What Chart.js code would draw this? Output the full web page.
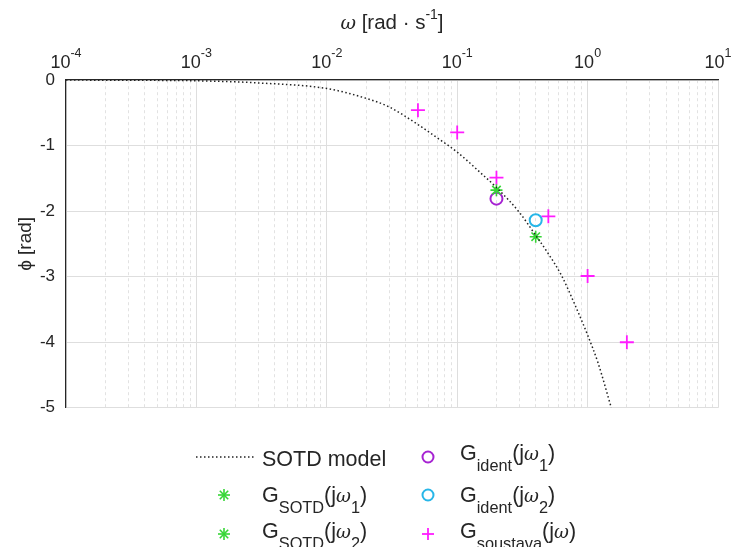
<!DOCTYPE html>
<html lang="cs">
<head>
<meta charset="UTF-8" />
<title>Fázová charakteristika</title>
<script src="https://cdn.jsdelivr.net/npm/chart.js"></script>
<style>
  body { margin: 0; width: 734px; height: 547px; overflow: hidden; background: #fff;
         font-family: "Liberation Sans", Arial, sans-serif; color: #262626; }
  .chart-box { position: absolute; left: 0; top: 0; width: 734px; height: 429px; }
  .legend { position: absolute; left: 0; top: 0; width: 734px; height: 547px; pointer-events: none; }
  .item { position: absolute; font-size: 21.5px; line-height: 24px; white-space: nowrap; }
  .mark { position: absolute; }
  .sub { font-size: 0.76em; position: relative; top: 11px; }
  .w { font-style: italic; font-family: "DejaVu Serif", serif; font-size: 0.85em; }
</style>
</head>
<body>
<div class="chart-box"><canvas id="chartFaze"></canvas></div>

<div class="legend">
  <svg class="mark" style="left:192px;top:447px" width="66" height="20">
    <line x1="4" y1="10" x2="62" y2="10" stroke="#222" stroke-width="1.5" stroke-dasharray="1.5 2.5"/>
  </svg>
  <div class="item" style="left:262px;top:447px">SOTD model</div>

  <svg class="mark" style="left:214px;top:485px" width="20" height="20">
    <g stroke="#36d636" stroke-width="1.6">
      <line x1="10" y1="4" x2="10" y2="16"/><line x1="4" y1="10" x2="16" y2="10"/>
      <line x1="5.8" y1="5.8" x2="14.2" y2="14.2"/><line x1="14.2" y1="5.8" x2="5.8" y2="14.2"/>
    </g>
  </svg>
  <div class="item" style="left:262px;top:483px">G<span class="sub">SOTD</span>(j<span class="w">ω</span><span class="sub">1</span>)</div>

  <svg class="mark" style="left:214px;top:524px" width="20" height="20">
    <g stroke="#36d636" stroke-width="1.6">
      <line x1="10" y1="4" x2="10" y2="16"/><line x1="4" y1="10" x2="16" y2="10"/>
      <line x1="5.8" y1="5.8" x2="14.2" y2="14.2"/><line x1="14.2" y1="5.8" x2="5.8" y2="14.2"/>
    </g>
  </svg>
  <div class="item" style="left:262px;top:519px">G<span class="sub">SOTD</span>(j<span class="w">ω</span><span class="sub">2</span>)</div>

  <svg class="mark" style="left:418px;top:447px" width="20" height="20">
    <circle cx="10" cy="10" r="5.5" fill="none" stroke="#a623d2" stroke-width="2"/>
  </svg>
  <div class="item" style="left:460px;top:441px">G<span class="sub">ident</span>(j<span class="w">ω</span><span class="sub">1</span>)</div>

  <svg class="mark" style="left:418px;top:485px" width="20" height="20">
    <circle cx="10" cy="10" r="5.5" fill="none" stroke="#27b6e8" stroke-width="2"/>
  </svg>
  <div class="item" style="left:460px;top:483px">G<span class="sub">ident</span>(j<span class="w">ω</span><span class="sub">2</span>)</div>

  <svg class="mark" style="left:418px;top:524px" width="20" height="20">
    <g stroke="#ff1cff" stroke-width="1.8">
      <line x1="10" y1="4" x2="10" y2="16"/><line x1="4" y1="10" x2="16" y2="10"/>
    </g>
  </svg>
  <div class="item" style="left:460px;top:519px">G<span class="sub">soustava</span>(j<span class="w">ω</span>)</div>
</div>

<script>
// SOTD model, fáze odečtená v bodech frekvence
const modelOmega = [0.0001, 0.0003, 0.001, 0.003, 0.01, 0.02, 0.03, 0.05, 0.07, 0.1, 0.15, 0.2, 0.3, 0.4, 0.5, 0.63, 0.8, 1.0, 1.2, 1.52];
const modelPhase = [-0.001, -0.004, -0.012, -0.045, -0.13, -0.28, -0.41, -0.68, -0.88, -1.10, -1.41, -1.64, -2.02, -2.37, -2.65, -2.98, -3.43, -3.89, -4.31, -5.0];

// G_SOTD v bodech w1, w2
const sotdOmega = [0.2, 0.4];
const sotdPhase = [-1.68, -2.39];

// identifikované body
const identOmega = [0.2, 0.4];
const identPhase = [-1.81, -2.14];

// měření soustavy
const soustavaOmega = [0.05, 0.1, 0.2, 0.5, 1, 2];
const soustavaPhase = [-0.46, -0.80, -1.49, -2.08, -2.99, -4.00];

// osa x: dekády a popisky exponentů
const xDecades = [0.0001, 0.001, 0.01, 0.1, 1, 10];
const xExponents = ['-4', '-3', '-2', '-1', '0', '1'];
const yTicks = [0, -1, -2, -3, -4, -5];

const pts = (xs, ys) => xs.map((x, i) => ({x: x, y: ys[i]}));

// mřížka 1..9 v každé dekádě
function logGridTicks() {
  const ticks = [];
  for (let d = 0; d < xDecades.length; d++) {
    ticks.push({value: xDecades[d], major: true});
    if (d === xDecades.length - 1) break;
    for (let k = 2; k <= 9; k++) ticks.push({value: k * xDecades[d], major: false});
  }
  return ticks;
}

// popisky 10^n a název osy x nahoře
const topAxisLabels = {
  id: 'topAxisLabels',
  afterDraw(chart) {
    const ctx = chart.ctx;
    const xs = chart.scales.x;
    ctx.save();
    ctx.fillStyle = '#262626';
    ctx.textBaseline = 'alphabetic';
    ctx.textAlign = 'left';
    xDecades.forEach((v, i) => {
      const px = xs.getPixelForValue(v);
      ctx.font = '18px "Liberation Sans", Arial, sans-serif';
      const wb = ctx.measureText('10').width;
      ctx.font = '12.5px "Liberation Sans", Arial, sans-serif';
      const we = ctx.measureText(xExponents[i]).width;
      const x0 = px - (wb + we) / 2;
      ctx.font = '18px "Liberation Sans", Arial, sans-serif';
      ctx.fillText('10', x0, 68);
      ctx.font = '12.5px "Liberation Sans", Arial, sans-serif';
      ctx.fillText(xExponents[i], x0 + wb, 57);
    });

    // ω [rad · s^-1]
    const parts = [
      {t: 'ω', f: 'italic 19px "DejaVu Serif", serif', dy: 0},
      {t: ' [rad · s', f: '20.5px "Liberation Sans", Arial, sans-serif', dy: 0},
      {t: '-1', f: '14px "Liberation Sans", Arial, sans-serif', dy: -10},
      {t: ']', f: '20.5px "Liberation Sans", Arial, sans-serif', dy: 0}
    ];
    let total = 0;
    parts.forEach(p => { ctx.font = p.f; p.w = ctx.measureText(p.t).width; total += p.w; });
    let x = (chart.chartArea.left + chart.chartArea.right) / 2 - total / 2;
    parts.forEach(p => { ctx.font = p.f; ctx.fillText(p.t, x, 29 + p.dy); x += p.w; });
    ctx.restore();
  }
};

new Chart(document.getElementById('chartFaze'), {
  type: 'scatter',
  data: {
    datasets: [
      {
        type: 'line',
        label: 'SOTD model',
        data: pts(modelOmega, modelPhase),
        borderColor: '#222',
        borderWidth: 1.5,
        borderDash: [1.5, 2.5],
        pointRadius: 0,
        cubicInterpolationMode: 'monotone',
        fill: false
      },
      {
        label: 'G_SOTD(jw1)',
        data: pts(sotdOmega.slice(0, 1), sotdPhase.slice(0, 1)),
        pointStyle: 'star', pointRadius: 6, borderWidth: 1.6,
        borderColor: '#36d636', backgroundColor: '#36d636'
      },
      {
        label: 'G_SOTD(jw2)',
        data: pts(sotdOmega.slice(1), sotdPhase.slice(1)),
        pointStyle: 'star', pointRadius: 6, borderWidth: 1.6,
        borderColor: '#36d636', backgroundColor: '#36d636'
      },
      {
        label: 'G_ident(jw1)',
        data: pts(identOmega.slice(0, 1), identPhase.slice(0, 1)),
        pointStyle: 'circle', pointRadius: 6, borderWidth: 2,
        borderColor: '#a623d2', backgroundColor: 'rgba(0,0,0,0)'
      },
      {
        label: 'G_ident(jw2)',
        data: pts(identOmega.slice(1), identPhase.slice(1)),
        pointStyle: 'circle', pointRadius: 6, borderWidth: 2,
        borderColor: '#27b6e8', backgroundColor: 'rgba(0,0,0,0)'
      },
      {
        label: 'G_soustava(jw)',
        data: pts(soustavaOmega, soustavaPhase),
        pointStyle: 'cross', pointRadius: 7, borderWidth: 1.8,
        borderColor: '#ff1cff', backgroundColor: '#ff1cff'
      }
    ]
  },
  options: {
    responsive: true,
    maintainAspectRatio: false,
    animation: false,
    layout: { padding: { left: 0, right: 16, top: 0, bottom: 4 } },
    plugins: { legend: { display: false }, tooltip: { enabled: false } },
    scales: {
      x: {
        type: 'logarithmic',
        position: 'top',
        min: 0.0001,
        max: 10,
        afterBuildTicks: scale => { scale.ticks = logGridTicks(); },
        afterFit: scale => { scale.height = 80; },
        ticks: { display: false, autoSkip: false },
        grid: {
          drawTicks: false,
          color: c => c.tick && c.tick.major ? '#dedede' : '#e2e2e2',
          lineWidth: 1
        },
        border: {
          color: '#262626',
          width: 1.2,
          dash: c => (c.tick && !c.tick.major) ? [3, 3] : []
        }
      },
      y: {
        min: -5,
        max: 0,
        afterBuildTicks: scale => { scale.ticks = yTicks.map(v => ({value: v})); },
        afterFit: scale => { scale.width = 66; },
        ticks: {
          color: '#262626',
          font: { size: 17, family: '"Liberation Sans", Arial, sans-serif' },
          padding: 11,
          callback: v => String(v)
        },
        grid: { drawTicks: false, color: '#dedede', lineWidth: 1 },
        border: { color: '#262626', width: 1.2 },
        title: {
          display: true,
          text: 'ϕ [rad]',
          color: '#262626',
          font: { size: 19, family: '"Liberation Sans", Arial, sans-serif' },
          padding: { top: 14, bottom: 0 }
        }
      }
    }
  },
  plugins: [topAxisLabels]
});
</script>
</body>
</html>
